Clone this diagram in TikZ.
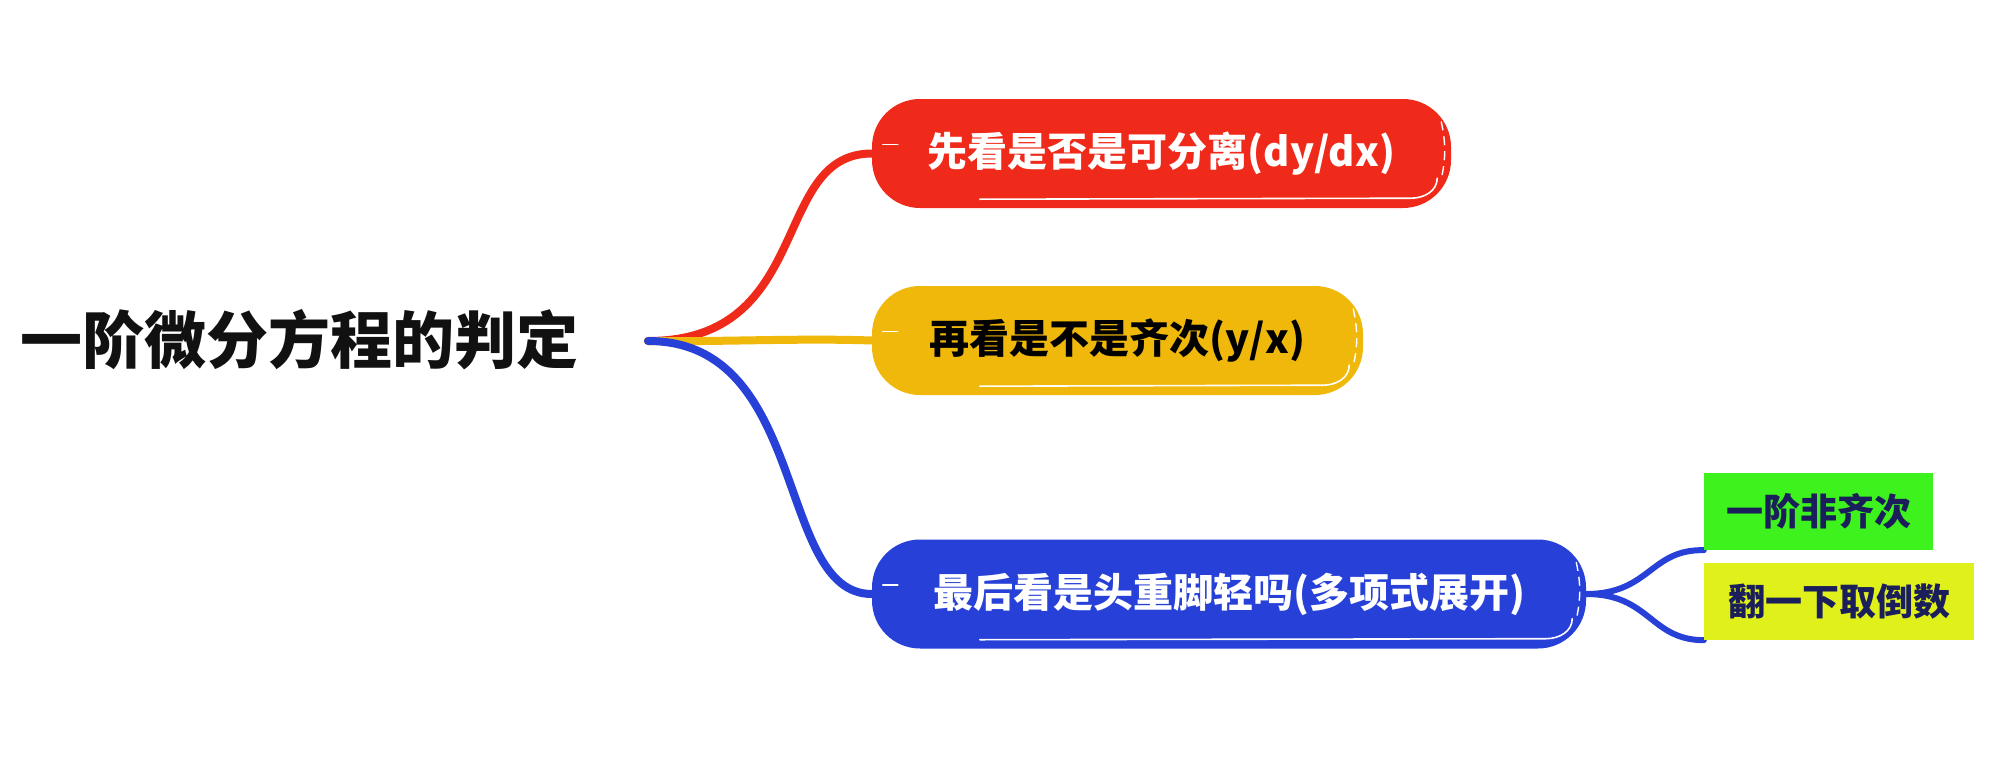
\documentclass[tikz,border=0pt]{standalone}
\usepackage{fontspec}
\setmainfont{Noto Sans CJK SC}
\usetikzlibrary{backgrounds}
\definecolor{cred}{RGB}{240,42,26}
\definecolor{cyel}{RGB}{240,184,10}
\definecolor{cblue}{RGB}{38,64,216}
\definecolor{cgreen}{RGB}{62,242,30}
\definecolor{clime}{RGB}{224,240,26}
\definecolor{cnavy}{RGB}{26,30,90}
\definecolor{cink}{RGB}{17,17,17}
\begin{document}
\begin{tikzpicture}[x=1pt,y=-1pt,
  branchbox/.style={rounded corners=48pt, minimum height=109pt, inner sep=0pt,
    font=\bfseries\fontsize{40}{48}\selectfont},
  leafbox/.style={minimum height=77pt, inner sep=0pt, text=cnavy,
    font=\bfseries\fontsize{37}{44}\selectfont},
  conn/.style={line width=8pt, line cap=round},
  subconn/.style={line width=6pt, line cap=round, cblue},
  hl/.style={white, line width=1.6pt, line cap=round},
  hldash/.style={white, line width=1.4pt, dash pattern=on 9pt off 6pt}]
\useasboundingbox (0,0) rectangle (2002,763);

\node[anchor=west, inner sep=0pt, text=cink, font=\bfseries\fontsize{62}{70}\selectfont]
  (root) at (20,340) {一阶微分方程的判定};
\coordinate (hub) at (648,341);

\node[branchbox, fill=cred, text=white, minimum width=579pt] (red) at (1161.5,153.5) {先看是否是可分离(dy/dx)};
\node[branchbox, fill=cyel, text=black, minimum width=491pt] (yel) at (1117.5,340.5) {再看是不是齐次(y/x)};
\node[branchbox, fill=cblue, text=white, minimum width=714pt] (blue) at (1229,594) {最后看是头重脚轻吗(多项式展开)};

\node[leafbox, fill=cgreen, minimum width=229pt] (green) at (1818.5,511.5) {一阶非齐次};
\node[leafbox, fill=clime, minimum width=270pt] (lime) at (1839,601.5) {翻一下取倒数};

% sketchy highlights
\foreach \n in {red,yel,blue}{
  \draw[hl] ([xshift=108pt,yshift=9pt]\n.south west) -- ([xshift=-40pt,yshift=10pt]\n.south east)
     to[out=0,in=-90] ([xshift=-14pt,yshift=30pt]\n.south east);
  \draw[hl] ([xshift=11pt,yshift=9pt]\n.west) -- ([xshift=26pt,yshift=9pt]\n.west);
  \draw[hldash] ([xshift=-10pt,yshift=32pt]\n.east) to[bend left=12] ([xshift=-10pt,yshift=-26pt]\n.east);
}

\begin{pgfonlayer}{background}
\fill[white] (0,0) rectangle (2002,763);
\draw[conn, cred] (hub) .. controls (815,341) and (770,153.5) .. (red.west);
\draw[conn, cyel] (hub) .. controls (720,342) and (800,338) .. (yel.west);
\draw[conn, cblue] (hub) .. controls (810,341) and (775,594) .. (blue.west);
\draw[subconn] (blue.east) .. controls (1650,594) and (1650,549) .. (green.south west);
\draw[subconn] (blue.east) .. controls (1650,594) and (1650,640) .. (lime.south west);
\end{pgfonlayer}
\end{tikzpicture}
\end{document}
